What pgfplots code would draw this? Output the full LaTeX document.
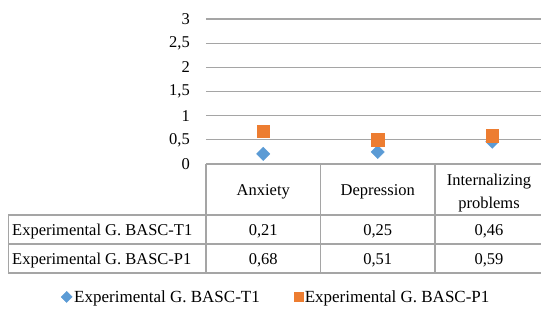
\documentclass[border=0pt]{standalone}
\usepackage{pgfplots}
\pgfplotsset{compat=1.18}
\usepackage{pgfplotstable}
\usepackage{fontspec}
\setmainfont{Liberation Serif}
\definecolor{gridc}{RGB}{165,165,165}
\definecolor{blueM}{RGB}{91,155,213}
\definecolor{orangeM}{RGB}{237,125,49}

\pgfplotstableread{
x T1 P1
0 0.21 0.68
1 0.25 0.51
2 0.46 0.59
}\data

\newcommand{\cell}[2]{\pgfplotstablegetelem{#1}{#2}\of\data\pgfmathprintnumber[fixed,fixed zerofill,precision=2,use comma,assume math mode=true]{\pgfplotsretval}}
\newcommand{\fnt}{\fontsize{16.5bp}{19bp}\selectfont}

\begin{document}
\begin{tikzpicture}[x=1bp,y=1bp,font=\fnt]
\path[use as bounding box] (-206,-148) rectangle (335,164);
\begin{axis}[
  at={(0,0)}, anchor=south west,
  width=335bp, height=145bp, scale only axis,
  xmin=-0.5, xmax=2.426, ymin=0, ymax=3,
  axis line style={draw=none},
  major tick length=0pt,
  xtick=\empty,
  ytick={0,0.5,1,1.5,2,2.5,3},
  ymajorgrids,
  grid style={gridc, line width=1.2bp},
  /pgf/number format/use comma,
  /pgf/number format/fixed,
  /pgf/number format/assume math mode=true,
  yticklabel style={anchor=east, inner sep=0pt, xshift=-16bp, font=\fnt},
  clip=false,
  legend columns=2,
  legend style={draw=none, fill=none, at={(-0.4328,-0.917)}, anchor=west, inner sep=0pt,
    font=\fontsize{17bp}{19bp}\selectfont,
    nodes={inner xsep=2bp},
    /tikz/every even column/.append style={column sep=32bp}},
]
\addplot[only marks, mark=square*, mark size=4.7bp,
  mark options={rotate=45, fill=blueM, draw=blueM},
  legend image code/.code={\draw[mark=square*, mark size=3.9bp, mark options={rotate=45, fill=blueM, draw=blueM}] plot coordinates {(0bp,0bp)};}]
  table[x=x, y=T1]{\data};
\addplot[only marks, mark=square*, mark size=6.4bp,
  mark options={fill=orangeM, draw=orangeM},
  legend image code/.code={\draw[mark=square*, mark size=4.5bp, mark options={fill=orangeM, draw=orangeM}] plot coordinates {(0bp,0bp)};}]
  table[x=x, y=P1]{\data};
\legend{Experimental G. BASC-T1, Experimental G. BASC-P1}
\end{axis}
% data table
\begin{scope}[gridc, line width=1.3bp]
  \draw (0,0) -- (335,0);
  \draw (-197.5,-51) -- (335,-51);
  \draw (-197.5,-80) -- (335,-80);
  \draw (-197.5,-109) -- (335,-109);
  \draw (0,0) -- (0,-109);
  \draw (114.5,0) -- (114.5,-109);
  \draw (229,0) -- (229,-109);
  \draw (-197.5,-51) -- (-197.5,-109);
\end{scope}
\begin{scope}[every node/.style={inner sep=0pt, anchor=base}]
  \node at (57.25,-31) {Anxiety};
  \node at (171.75,-31) {Depression};
  \node at (283,-21.5) {Internalizing};
  \node at (283,-44.5) {problems};
  \node[anchor=base west] at (-194,-71) {Experimental G. BASC-T1};
  \node[anchor=base west] at (-194,-100) {Experimental G. BASC-P1};
  \node at (57.25,-71) {\cell{0}{T1}};
  \node at (171.75,-71) {\cell{1}{T1}};
  \node at (283,-71) {\cell{2}{T1}};
  \node at (57.25,-100) {\cell{0}{P1}};
  \node at (171.75,-100) {\cell{1}{P1}};
  \node at (283,-100) {\cell{2}{P1}};
\end{scope}
\end{tikzpicture}
\end{document}
